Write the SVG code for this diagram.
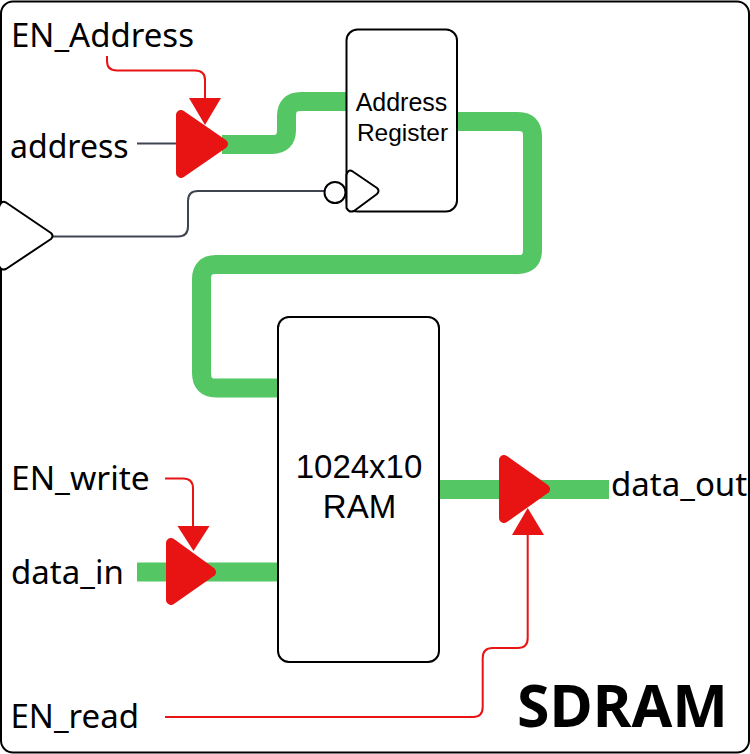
<svg xmlns="http://www.w3.org/2000/svg" width="750" height="754" viewBox="0 0 750 754">
<style>
.lbl{font-family:"Noto Sans","Open Sans",sans-serif;font-size:33px;fill:#000}
.nt{font-family:"Liberation Sans",Arial,sans-serif;fill:#000;text-anchor:middle}
.box{fill:#fff;stroke:#000;stroke-width:2}
.bus{fill:none;stroke:#54c764;stroke-width:19}
.ctl{fill:none;stroke:#e81313;stroke-width:2}
.clk{fill:none;stroke:#3f4550;stroke-width:2}
.buf{fill:#e81313;stroke:#e81313;stroke-width:10;stroke-linejoin:round}
.head{fill:#e81313}
.wt{fill:#fff;stroke:#000;stroke-width:2;stroke-linejoin:round}
</style>
<rect width="750" height="754" fill="#fff"/>
<rect id="frame" x="1" y="1.500" width="748" height="751" rx="12" fill="#fff" stroke="#000" stroke-width="2"/>
<g id="connectors">
<path class="bus" d="M222 144.500H272Q286.500 144.500 286.500 130V116Q286.500 101.500 301 101.500H346"/>
<path class="bus" d="M457 121.500H518Q532.500 121.500 532.500 136V250Q532.500 264.500 518 264.500H216Q201.500 264.500 201.500 279V373Q201.500 388 216 388H278"/>
<path class="bus" d="M137 572H278"/>
<path class="bus" d="M440 489.500H609"/>
<path class="clk" d="M137 143.500H177"/>
<path class="clk" d="M53 236.500H178Q188 236.500 188 226.500V201Q188 191 198 191H325"/>
<path class="ctl" d="M107 56V61Q107 70.500 117 70.500H195Q205 70.500 205 80V99"/>
<polygon class="head" points="189,98 221,98 205,125"/>
<path class="ctl" d="M165 478.500H183Q193 478.500 193 488.500V527"/>
<polygon class="head" points="177.500,526 209.500,526 193.500,551"/>
<path class="ctl" d="M165 717H473Q482.700 717 482.700 707V658Q482.700 648 492.700 648H517.700Q527.700 648 527.700 638V534"/>
<polygon class="head" points="512,535 544,535 527.700,508"/>
</g>
<g id="buffer-address"><polygon class="buf" points="181,115 223,144 181,173"/></g>
<g id="buffer-data-in"><polygon class="buf" points="171,543 211,572 171,600"/></g>
<g id="buffer-data-out"><polygon class="buf" points="504,460 545,489 504,518"/></g>
<g id="clock-source"><path class="wt" d="M6 202.500L51 233Q54 236 51 239L6 269Q1 271 -1 266V207Q1 200 6 202.500Z"/></g>
<g id="address-register">
<rect class="box" x="346.500" y="29.500" width="110.500" height="182" rx="11"/>
<path class="wt" d="M352 171L377 188Q380 191 377 194L354 211Q349 213 346.500 208V175Q348 169 352 171Z"/>
<circle class="wt" cx="335" cy="192.500" r="10.500"/>
<text class="nt" font-size="25" x="401.500" y="111">Address</text>
<text class="nt" font-size="24.500" x="402.500" y="141">Register</text>
</g>
<g id="ram">
<rect class="box" x="278" y="317" width="161" height="345" rx="11"/>
<text class="nt" font-size="33" x="359" y="478">1024x10</text>
<text class="nt" font-size="33" x="359.500" y="518">RAM</text>
</g>
<g id="labels">
<text class="lbl" x="11" y="47">EN_Address</text>
<text class="lbl" x="10" y="158" style="font-size:32px">address</text>
<text class="lbl" x="11" y="490" style="font-size:33.500px">EN_write</text>
<text class="lbl" x="11" y="584">data_in</text>
<text class="lbl" x="10.500" y="728">EN_read</text>
<text class="lbl" x="611" y="496">data_out</text>
<text x="517" y="727" style="font-family:'Noto Sans','Open Sans',sans-serif;font-weight:700;font-size:59px;fill:#000">SDRAM</text>
</g>
</svg>
